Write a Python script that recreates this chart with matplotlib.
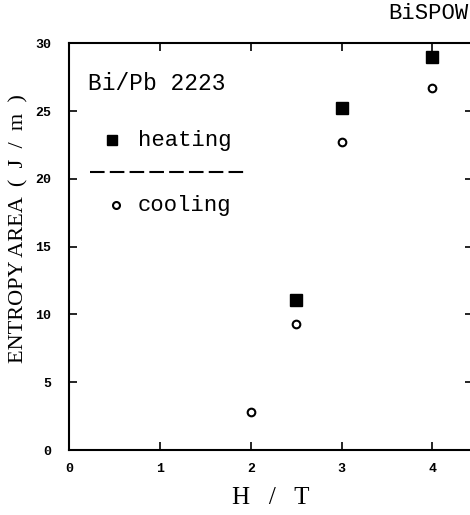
import matplotlib
matplotlib.use("Agg")
import matplotlib.pyplot as plt

# data
h_heat = [2.5, 3.0, 4.0]
s_heat = [11.1, 25.2, 29.0]
h_cool = [2.0, 2.5, 3.0, 4.0]
s_cool = [2.8, 9.3, 22.7, 26.7]

xticks = [0, 1, 2, 3, 4]
yticks = [0, 5, 10, 15, 20, 25, 30]

mono = "Liberation Mono"
serif = "Liberation Serif"

fig = plt.figure(figsize=(4.7, 5.15), dpi=100)
ax = fig.add_axes([0.147, 0.126, 0.86, 0.79])

ax.plot(h_heat, s_heat, ls="none", marker="s", ms=9, color="black")
ax.plot(h_cool, s_cool, ls="none", marker="o", ms=5.5, mfc="white",
        mec="black", mew=1.5)

ax.set_xlim(0, 4.45)
ax.set_ylim(0, 30)
ax.set_xticks(xticks)
ax.set_yticks(yticks)
ax.tick_params(direction="in", top=True, right=True, length=6, width=1.2,
               labelsize=9.5)
ax.tick_params(axis="y", pad=13)
ax.tick_params(axis="x", pad=9)
for lab in ax.get_xticklabels() + ax.get_yticklabels():
    lab.set_fontfamily(mono)
    lab.set_fontweight("semibold")
for sp in ax.spines.values():
    sp.set_linewidth(1.5)

ax.set_xlabel("H   /   T", family=serif, fontsize=18, labelpad=9)
ax.set_ylabel("ENTROPY AREA  (  J  /  m  )", family=serif, fontsize=16)
ax.yaxis.set_label_coords(-0.1, 0.545)

# hand made legend box
ax.text(0.047, 0.902, "Bi/Pb 2223", transform=ax.transAxes, family=mono,
        fontsize=16.5, va="center")
ax.plot([0.107], [0.762], transform=ax.transAxes, marker="s", ms=7.5,
        color="black")
ax.text(0.17, 0.762, "heating", transform=ax.transAxes, family=mono,
        fontsize=16, va="center")
ax.plot([0.052, 0.439], [0.683, 0.683], transform=ax.transAxes,
        color="black", ls=(0, (7, 2.5)), lw=1.5)
ax.plot([0.115], [0.602], transform=ax.transAxes, marker="o", ms=5,
        mfc="white", mec="black", mew=1.5)
ax.text(0.17, 0.602, "cooling", transform=ax.transAxes, family=mono,
        fontsize=16, va="center")

fig.text(0.997, 0.974, "BiSPOW", family=mono, fontsize=16, ha="right",
         va="center")

fig.savefig("out.png", dpi=100)
